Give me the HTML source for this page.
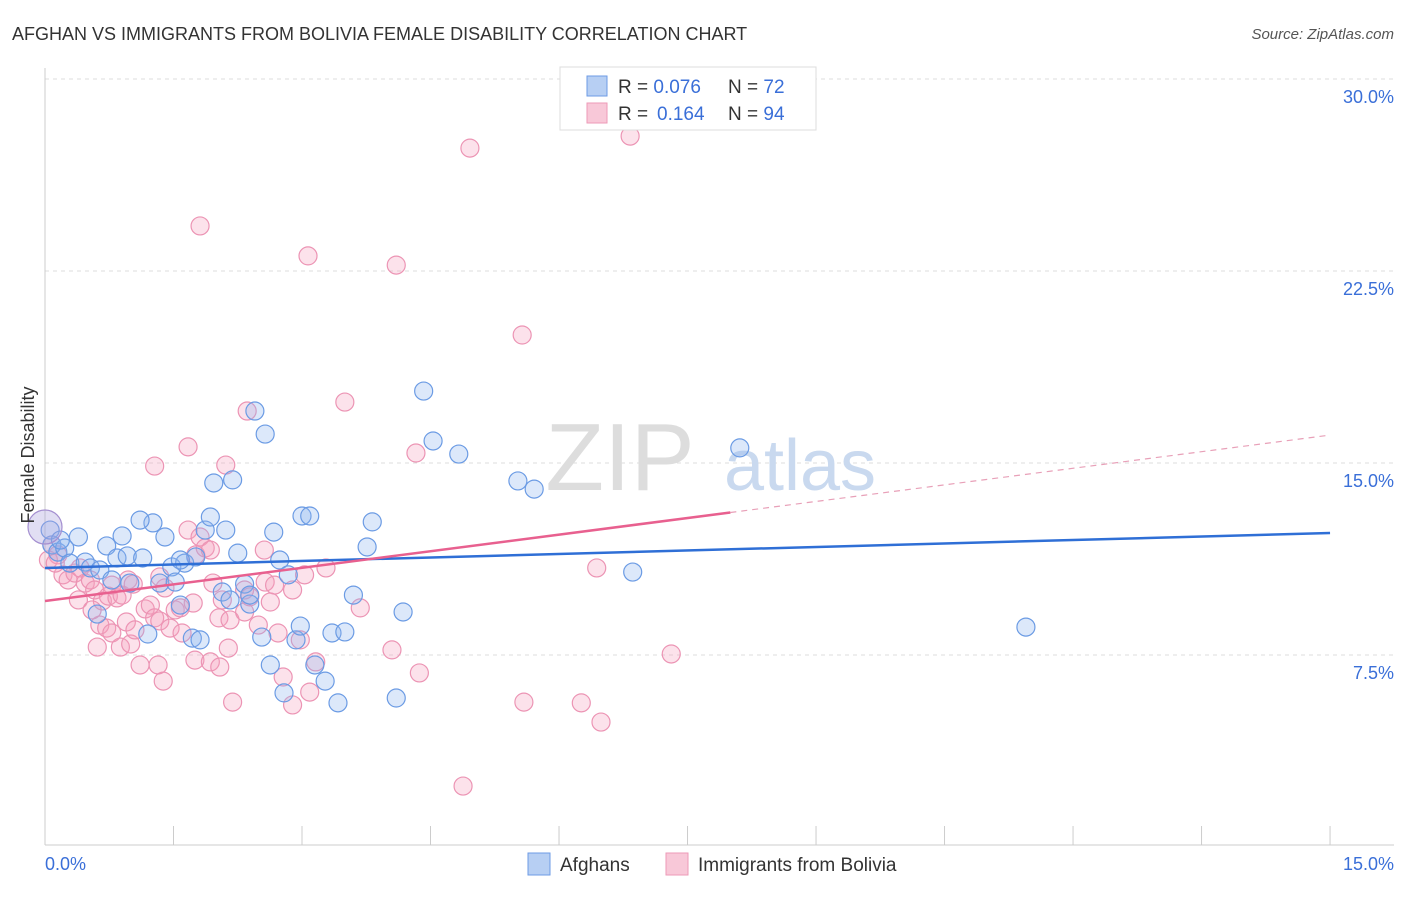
<!DOCTYPE html>
<html><head><meta charset="utf-8"><style>
body{margin:0;background:#fff;font-family:"Liberation Sans",sans-serif}
svg text{font-family:"Liberation Sans",sans-serif}
</style></head><body>
<svg width="1406" height="892" xmlns="http://www.w3.org/2000/svg">
<text x="12" y="40" font-size="18" fill="#333">AFGHAN VS IMMIGRANTS FROM BOLIVIA FEMALE DISABILITY CORRELATION CHART</text>
<text x="1394" y="39" font-size="15" fill="#555" font-style="italic" text-anchor="end">Source: ZipAtlas.com</text>
<g id="grid"></g>
<text x="620" y="490" font-size="96" fill="#ddd" font-family="Liberation Serif" text-anchor="middle">ZIP</text>
<text x="800" y="490" font-size="72" fill="#c9d9ef" text-anchor="middle">atlas</text>
<g id="pts"></g>
<g id="lines"></g>
<text transform="translate(34,455) rotate(-90)" font-size="18" fill="#333" text-anchor="middle">Female Disability</text>
<text x="45" y="870" font-size="18" fill="#3a6fd8">0.0%</text>
<text x="1394" y="870" font-size="18" fill="#3a6fd8" text-anchor="end">15.0%</text>
<g>
<rect x="560" y="67" width="256" height="63" fill="#fff" stroke="#ddd"/>
<rect x="587" y="76" width="20" height="20" fill="#b7cff3" stroke="#6e9be6"/>
<rect x="587" y="103" width="20" height="20" fill="#f8c8d8" stroke="#ee9ab7"/>
<text x="618" y="93" font-size="19" fill="#333">R = <tspan fill="#3a6fd8">0.076</tspan><tspan x="728">N = </tspan><tspan fill="#3a6fd8">72</tspan></text>
<text x="618" y="120" font-size="19" fill="#333">R = <tspan fill="#3a6fd8" x="657">0.164</tspan><tspan x="728">N = </tspan><tspan fill="#3a6fd8">94</tspan></text>
</g>
<g>
<rect x="528" y="853" width="22" height="22" fill="#b7cff3" stroke="#6e9be6"/>
<text x="560" y="871" font-size="19" fill="#333">Afghans</text>
<rect x="666" y="853" width="22" height="22" fill="#f8c8d8" stroke="#ee9ab7"/>
<text x="698" y="871" font-size="19" fill="#333">Immigrants from Bolivia</text>
</g>
</svg>
<script>
const yTicks=[7.5,15,22.5,30];
const yTickLabels=["7.5%","15.0%","22.5%","30.0%"];
const xTicks=[0,1.5,3,4.5,6,7.5,9,10.5,12,13.5,15];
const afghansX=[0.08,0.15,0.23,0.29,0.39,0.47,0.53,0.61,0.64,0.72,0.78,0.84,0.90,0.96,0.99,1.14,1.20,1.26,1.34,1.40,1.48,1.52,1.58,1.63,1.72,1.76,1.87,1.93,1.97,2.07,2.11,2.19,2.25,2.33,2.39,2.45,2.53,2.57,2.63,2.67,2.74,2.79,2.84,2.93,2.98,3.00,3.09,3.15,3.27,3.35,3.42,3.50,3.60,3.76,3.82,4.10,4.18,4.42,4.53,4.83,5.52,5.71,6.86,8.11,11.45,2.16,2.39,1.58,1.11,1.81,0.06,0.18];
const afghansY=[11.80,11.52,11.68,11.09,12.11,11.13,10.90,9.10,10.82,11.76,10.43,11.29,12.15,11.37,10.31,11.29,8.32,12.66,10.31,12.11,10.94,10.35,9.45,11.09,8.16,11.33,12.38,12.89,14.22,9.96,12.38,14.34,11.48,10.27,9.49,17.03,8.20,16.13,7.11,12.30,11.21,6.02,10.63,8.09,8.63,12.93,12.93,7.11,6.48,8.36,5.63,8.40,9.84,11.72,12.70,5.82,9.18,17.81,15.86,15.35,14.30,13.98,10.74,15.59,8.59,9.65,9.84,11.21,12.77,8.09,12.38,11.99];
const boliviaX=[1.81,3.07,4.10,4.96,6.83,5.57,3.50,2.36,1.67,4.33,1.28,2.11,0.08,0.15,0.21,0.27,0.35,0.41,0.47,0.53,0.58,0.39,0.67,0.74,0.78,0.84,0.90,0.97,1.03,0.64,0.72,0.78,0.88,0.95,1.00,0.61,1.11,1.17,1.23,1.28,1.34,1.38,1.32,1.40,1.46,1.52,1.58,1.60,1.67,1.73,1.76,1.81,1.87,1.93,1.96,2.03,2.07,1.75,1.93,2.04,2.16,2.19,2.14,2.33,2.33,2.39,2.49,2.56,2.57,2.63,2.68,2.72,2.78,2.89,2.89,2.98,3.03,3.09,3.16,3.28,3.68,4.05,4.37,4.88,5.59,6.26,6.44,6.49,7.31,0.04,0.12,0.55,1.05,1.34];
const boliviaY=[24.26,23.09,22.73,27.30,27.77,20.00,17.38,17.03,15.63,15.39,14.88,14.92,11.80,11.41,10.63,10.43,10.70,10.90,10.31,10.43,10.04,9.65,9.61,9.80,10.23,9.73,9.84,10.43,10.27,8.67,8.55,8.36,7.81,8.79,7.93,7.81,7.11,9.30,9.45,8.95,8.83,6.48,7.11,10.12,8.55,9.26,9.34,8.36,12.38,9.53,11.41,12.11,11.68,11.60,10.31,8.95,9.65,7.30,7.23,7.03,8.87,5.66,7.77,10.04,9.18,9.77,8.67,11.60,10.35,9.57,10.23,8.36,6.64,10.04,5.55,8.09,10.63,6.05,7.23,10.90,9.34,7.70,6.80,2.38,5.66,5.63,10.90,4.88,7.54,11.21,11.09,9.26,8.48,10.55];
const trendAfghans=[10.90,0.091];
const trendBolivia=[9.61,0.432];
const boliviaSolidEnd=8.0;
const X=v=>45+v*85.67, Y=v=>847-v*25.6;
const NS="http://www.w3.org/2000/svg";
function mk(t,a,p){const e=document.createElementNS(NS,t);for(const k in a)e.setAttribute(k,a[k]);p.appendChild(e);return e;}
const g=document.getElementById('grid');
yTicks.forEach((t,i)=>{
 const l=mk('line',{x1:45,x2:1394,y1:Y(t),y2:Y(t),stroke:'#ddd','stroke-dasharray':'4,4'},g);
 
 
 const tx=mk('text',{x:1394,y:Y(t)+24,'font-size':18,fill:'#3a6fd8','text-anchor':'end'},g);
 tx.textContent=yTickLabels[i];
 
 
});
const ax=mk('line',{x1:45,x2:45,y1:68,y2:845,stroke:'#ccc'},g);


const bx=mk('line',{x1:45,x2:1394,y1:845,y2:845,stroke:'#ccc'},g);


xTicks.forEach(t=>{
 const l=mk('line',{x1:X(t),x2:X(t),y1:826,y2:845,stroke:'#ccc'},g);
 
 
});
const p=document.getElementById('pts');
boliviaX.forEach((x,i)=>{
 const c=mk('circle',{cx:X(x),cy:Y(boliviaY[i]),r:9,fill:'rgba(244,160,190,0.3)',stroke:'#ec94b4','stroke-width':1.2},p);
 
 
});
afghansX.forEach((x,i)=>{
 const c=mk('circle',{cx:X(x),cy:Y(afghansY[i]),r:9,fill:'rgba(140,180,240,0.3)',stroke:'#6b9be4','stroke-width':1.2},p);
 
 
});
const big=mk('circle',{cx:X(0),cy:Y(12.5),r:17,fill:'rgba(170,160,220,0.35)',stroke:'#a48fd0','stroke-width':1.2},p);


const L=document.getElementById('lines');
const la=mk('line',{x1:X(0),y1:Y(trendAfghans[0]),x2:X(15),y2:Y(trendAfghans[0]+15*trendAfghans[1]),stroke:'#2f6fd6','stroke-width':2.5},L);


const lb=mk('line',{x1:X(0),y1:Y(trendBolivia[0]),x2:X(boliviaSolidEnd),y2:Y(trendBolivia[0]+boliviaSolidEnd*trendBolivia[1]),stroke:'#e8608f','stroke-width':2.5},L);


const ld=mk('line',{x1:X(boliviaSolidEnd),y1:Y(trendBolivia[0]+boliviaSolidEnd*trendBolivia[1]),x2:X(15),y2:Y(trendBolivia[0]+15*trendBolivia[1]),stroke:'#e8a0b8','stroke-width':1.2,'stroke-dasharray':'6,5'},L);


</script>
</body></html>
